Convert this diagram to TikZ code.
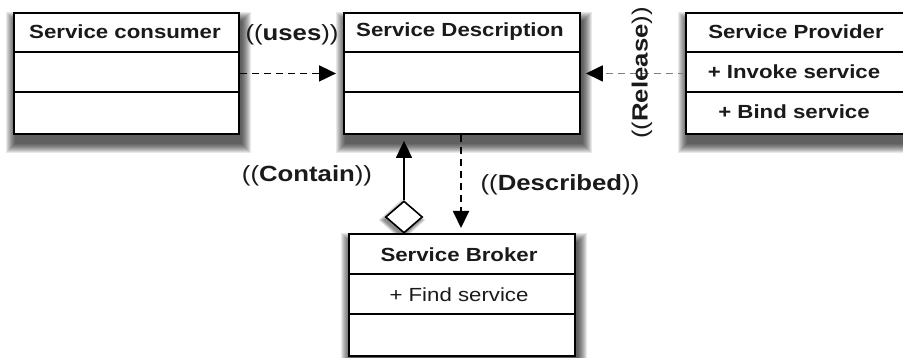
\documentclass[tikz,border=0pt]{standalone}
\usepackage{fontspec}
\setmainfont{Liberation Sans}[FakeStretch=1.17]
\usetikzlibrary{arrows.meta,shapes.geometric}
\pgfdeclarelayer{bg}
\pgfsetlayers{bg,main}
\definecolor{txt}{HTML}{1A1A1A}
\begin{document}
\begin{tikzpicture}[x=1pt,y=-1pt,
  cls/.style={draw=black, line width=1.9pt, fill=white, inner sep=0pt, anchor=north west},
  ttl/.style={text=txt, font=\fontsize{19}{22}\selectfont\bfseries, inner sep=0pt},
  mem/.style={text=txt, font=\fontsize{19}{22}\selectfont\bfseries, inner sep=0pt},
  memr/.style={text=txt, font=\fontsize{19}{22}\selectfont, inner sep=0pt},
  lbl/.style={text=txt, font=\fontsize{22}{26}\selectfont, inner sep=0pt},
  sep/.style={line width=1.5pt},
  conn/.style={line width=1.8pt, -{Triangle[length=17pt,width=16pt,color=black]}},
  dsh/.style={dash pattern=on 7pt off 5pt}
]
\useasboundingbox (0,0) rectangle (903,358);

% boxes
\node[cls, minimum width=225pt, minimum height=121pt] (cons) at (13,12) {};
\node[cls, minimum width=236pt, minimum height=121pt] (desc) at (343,12) {};
\node[cls, minimum width=222pt, minimum height=121pt] (prov) at (685,12) {};
\node[cls, minimum width=226pt, minimum height=122pt] (brok) at (348,233) {};
\node[diamond, draw=black, line width=1.6pt, fill=white, inner sep=0pt,
      minimum width=37pt, minimum height=32pt] (dia) at (404,217) {};

% background and shadows
\begin{pgfonlayer}{bg}
\fill[white] (0,0) rectangle (903,358);
\foreach \n in {cons,desc,prov,brok}{
  \foreach \e in {0,...,9}{
    \fill[black,opacity=0.09]
      ([xshift={(2-\e)*1pt}, yshift={(-9-\e)*1pt}]\n.south west) rectangle
      ([xshift={(2+\e)*1pt}, yshift={(-9+\e)*1pt}]\n.north east);
  }
}
\foreach \e in {0,...,5}{
  \node[diamond, fill=black, opacity=0.09, inner sep=0pt,
        minimum width={(37+2*\e)*1pt}, minimum height={(32+2*\e)*1pt}]
        at ([xshift=-2pt,yshift=-3pt]dia.center) {};
}
\end{pgfonlayer}

% compartments
\foreach \n in {cons,desc,prov}{
  \draw[sep] ([yshift=-40pt]\n.north west) -- ([yshift=-40pt]\n.north east);
  \draw[sep] ([yshift=-80pt]\n.north west) -- ([yshift=-80pt]\n.north east);
}
\draw[sep] ([yshift=-41pt]brok.north west) -- ([yshift=-41pt]brok.north east);
\draw[sep] ([yshift=-81pt]brok.north west) -- ([yshift=-81pt]brok.north east);

% texts
\node[ttl] (consT) at (125,32) {Service consumer};
\node[ttl] (descT) at (460,32) {Service Description};
\node[ttl] (provT) at (796,32) {Service Provider};
\node[mem] (provM1) at (794,72) {+ Invoke service};
\node[mem] (provM2) at (794,112) {+ Bind service};
\node[ttl] (brokT) at (459,255) {Service Broker};
\node[memr] (brokM1) at (459,295) {+ Find service};

% connectors
\draw[conn, dsh] (cons.east) -- (desc.west) [shorten >=7pt];
\draw[conn, dsh, draw=gray] (prov.west) -- (desc.east) [shorten >=5pt];
\draw[conn] (dia.north) -- (dia.north |- desc.south) [shorten >=6pt];
\coordinate (dtop) at (461,233);
\draw[conn, dsh] (desc.south -| dtop) -- (dtop) [shorten >=5pt];

% labels
\node[lbl] (uses) at (292,35) {((\textbf{uses}))};
\node[lbl, rotate=90] (rel) at (642,73) {((\textbf{Release}))};
\node[lbl] (cont) at (307,176) {((\textbf{Contain}))};
\node[lbl] (descr) at (560,185) {((\textbf{Described}))};
\end{tikzpicture}
\end{document}
